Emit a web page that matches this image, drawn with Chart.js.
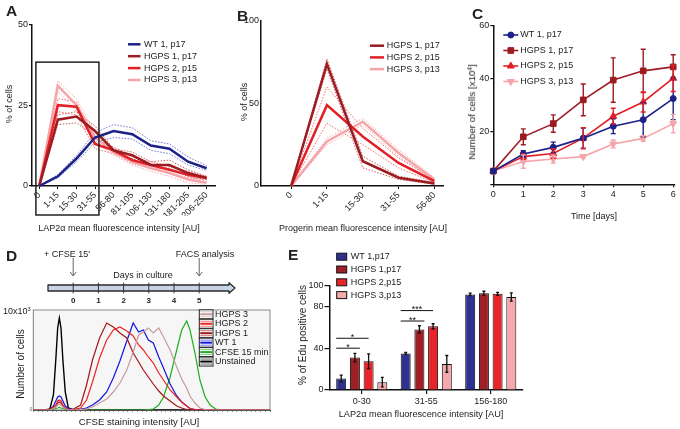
<!DOCTYPE html>
<html>
<head>
<meta charset="utf-8">
<script src="https://cdn.jsdelivr.net/npm/chart.js@4.4.1/dist/chart.umd.min.js"></script>
<style>
  body { margin: 0; background: #fff; }
  #wrap { position: relative; width: 680px; height: 429px; overflow: hidden; font-family: "Liberation Sans", Arial, sans-serif; color: #222; }
  canvas { position: absolute; left: 0; top: 0; }
  .t { position: absolute; white-space: nowrap; font-size: 9px; line-height: 1; transform: translate(-50%, -50%); }
  .r { transform: translate(-50%, -50%) rotate(-90deg); }
  .p { position: absolute; font-weight: bold; font-size: 15.5px; line-height: 1; }
  sup { font-size: 65%; vertical-align: 0; position: relative; top: -0.5em; }
</style>
</head>
<body>
<div id="wrap">
  <canvas id="cA" width="680" height="429"></canvas>
  <canvas id="cB" width="680" height="429"></canvas>
  <canvas id="cC" width="680" height="429"></canvas>
  <canvas id="cT" width="680" height="429"></canvas>
  <canvas id="cD" width="680" height="429"></canvas>
  <canvas id="cE" width="680" height="429"></canvas>

  <div class="p" style="left:6px;top:3px">A</div>
  <div class="p" style="left:237px;top:8px">B</div>
  <div class="p" style="left:472px;top:6px">C</div>
  <div class="p" style="left:6px;top:248px">D</div>
  <div class="p" style="left:288px;top:247px">E</div>

  <div class="t r" style="left:9px;top:104px">% of cells</div>
  <div class="t" style="left:119px;top:228px">LAP2α mean fluorescence intensity [AU]</div>
  <div class="t r" style="left:244px;top:102px">% of cells</div>
  <div class="t" style="left:363px;top:228px">Progerin mean fluorescence intensity [AU]</div>
  <div class="t r" style="left:472px;top:112px;font-size:9.8px">Number of cells [x10<sup>4</sup>]</div>
  <div class="t" style="left:594px;top:216px">Time [days]</div>

  <div class="t" style="left:67px;top:254px">+ CFSE 15'</div>
  <div class="t" style="left:205px;top:254px">FACS analysis</div>
  <div class="t" style="left:143px;top:275px">Days in culture</div>
  <div class="t" style="left:3px;top:311px;transform:translate(0,-50%)">10x10<sup>3</sup></div>
  <div class="t r" style="left:21px;top:364px;font-size:10px">Number of cells</div>
  <div class="t" style="left:139px;top:422px;font-size:9.6px">CFSE staining intensity [AU]</div>

  <div class="t r" style="left:303px;top:335px;font-size:10px">% of Edu positive cells</div>
  <div class="t" style="left:421px;top:415px;font-size:9.2px">LAP2α mean fluorescence intensity [AU]</div>
</div>

<script>
// A: LAP2a distribution (% of cells), mean and dotted SD envelope
const lapBins = ['0', '1-15', '15-30', '31-55', '56-80', '81-105', '106-130', '131-180', '181-205', '206-250'];
const wtLap   = [0, 3, 8.5, 15, 17, 16, 12.5, 11.5, 7.5, 5.5];
const wtLapHi = [0, 3.5, 9.5, 16.5, 19, 18, 14, 13, 9, 6.3];
const wtLapLo = [0, 2.5, 7.5, 13.5, 15, 14.5, 11, 10, 6.5, 4.8];
const h1Lap   = [0, 20.5, 21.5, 17, 11, 9.5, 6.5, 6.5, 4, 2.5];
const h1LapHi = [0, 22, 23, 18.5, 11.5, 10.5, 7.5, 8, 5, 3];
const h1LapLo = [0, 19, 19.5, 15.5, 10, 8.5, 5.5, 5.5, 3, 2];
const h2Lap   = [0, 25, 24.5, 13, 11, 8, 6.5, 5, 3.5, 2.5];
const h2LapHi = [0, 27, 26, 14.5, 12, 9, 7.5, 6, 4.5, 3];
const h2LapLo = [0, 23, 22, 11.5, 10, 7, 5.5, 4, 2.5, 2];
const h3Lap   = [0, 31, 25, 15, 10.5, 7.5, 5.5, 4, 2, 1];
const h3LapHi = [0, 32.5, 27, 16.5, 11.5, 8.5, 6.5, 5, 3, 1.5];
const h3LapLo = [0, 29.5, 23, 13.5, 9.5, 6.5, 4.5, 3, 1, 0.5];
const lapTicks = [0, 25, 50];

// B: progerin distribution
const progBins = ['0', '1-15', '15-30', '31-55', '56-80'];
const h1Prog   = [0, 74, 15, 5, 1.5];
const h1ProgHi = [0, 77, 18, 6, 2];
const h1ProgLo = [0, 71, 11, 4, 1];
const h2Prog   = [0, 49, 30, 14, 3];
const h2ProgHi = [0, 60, 35, 17, 4];
const h2ProgLo = [0, 38, 25, 11, 2];
const h3Prog   = [0, 27, 39, 20, 4];
const h3ProgHi = [0, 29, 41, 22, 5];
const h3ProgLo = [0, 25, 37, 18, 3];
const progTicks = [0, 50, 100];

// C: growth curves, number of cells [x10^4]
const days     = [0, 1, 2, 3, 4, 5, 6];
const wtCells  = [5, 11.5, 14, 17.5, 22, 24.5, 32.5];
const wtErr    = [0, 1.2, 2, 3.8, 2.8, 6.5, 8];
const h1Cells  = [5, 18, 23, 32, 39.5, 43, 44.5];
const h1Err    = [0, 3, 3.3, 6, 8.4, 8.2, 4.6];
const h2Cells  = [5, 10.5, 11.7, 17.5, 25.8, 31.2, 40.2];
const h2Err    = [0, 1, 1.8, 4, 3, 3.8, 5];
const h3Cells  = [5, 8.6, 9.6, 10.5, 15.3, 17.4, 23];
const h3Err    = [0, 2.5, 1.5, 0.5, 1.5, 1, 3.5];
const cellTicks = [0, 20, 40, 60];

// D: timeline days and CFSE histograms (channel 0-100, counts x10^3)
const cultureDays = [0, 1, 2, 3, 4, 5];
const eventDays = [0, 5];
const cfseX = [0, 5, 7, 8.5, 9.5, 10.3, 11, 11.7, 12.5, 13.5, 14.8, 17, 20, 22.5, 25, 28, 31, 33.8, 36.6, 39.5,
               42.2, 44.5, 46.5, 48.6, 50.7, 53, 55, 57.8, 60.6, 62.7, 64.8, 66.2, 68.3, 70.4, 72.6, 74.7, 77, 80, 100];
const hgps3Y = [0, 0, 0, 0.15, 0.3, 0.5, 0.55, 0.5, 0.3, 0.1, 0.05, 0, 0.05, 0.1, 0.3, 0.7, 1.1, 1.8, 2.7, 4,
                5.8, 7.5, 7.8, 8.2, 7.7, 8.2, 7.3, 6, 4.3, 3.1, 2.2, 1.4, 0.7, 0.2, 0.05, 0, 0, 0, 0];
const hgps2Y = [0, 0, 0.05, 0.3, 0.5, 0.9, 1.0, 0.9, 0.5, 0.2, 0.05, 0.05, 0.2, 1.0, 2.8, 5.2, 7, 8, 8.3, 7.9,
                7.4, 6.5, 6, 5.3, 4.7, 3.7, 3, 2, 1.3, 0.8, 0.4, 0.15, 0.05, 0, 0, 0, 0, 0, 0];
const hgps1Y = [0, 0, 0.05, 0.2, 0.4, 0.7, 0.8, 0.7, 0.4, 0.15, 0.05, 0.1, 0.5, 2.5, 5, 7.2, 8.7, 8.3, 7.7, 7.2,
                5.7, 4.8, 4, 3.3, 2.6, 1.9, 1.4, 0.9, 0.4, 0.2, 0.05, 0, 0, 0, 0, 0, 0, 0, 0];
const wt1Y   = [0, 0, 0.05, 0.4, 0.9, 1.3, 1.4, 1.3, 0.9, 0.4, 0.15, 0.05, 0.1, 0.2, 0.5, 1.0, 1.8, 3.2, 4.9, 6.9,
                8.7, 7.8, 8, 7, 6.7, 5.3, 4.2, 2.6, 1.4, 0.8, 0.4, 0.15, 0.05, 0, 0, 0, 0, 0, 0];
const cfse15Y = [0, 0, 0, 0.05, 0.15, 0.2, 0.25, 0.2, 0.15, 0.05, 0, 0, 0, 0, 0, 0, 0, 0, 0, 0,
                 0, 0, 0, 0.05, 0.1, 0.5, 1.3, 3.3, 6, 8, 8.9, 8, 5.7, 3, 1.3, 0.5, 0.1, 0, 0];
const unstY  = [0, 0, 0.1, 1.5, 5, 8.2, 9.2, 8.2, 5, 1.8, 0.2, 0, 0, 0, 0, 0, 0, 0, 0, 0,
                0, 0, 0, 0, 0, 0, 0, 0, 0, 0, 0, 0, 0, 0, 0, 0, 0, 0, 0];

// E: % EdU positive cells per LAP2a class
const eduGroups = ['0-30', '31-55', '156-180'];
const wtEdu  = [11, 35, 91.5];
const wtEduErr = [3.2, 1, 1.2];
const h1Edu  = [31, 58, 92.5];
const h1EduErr = [4, 3.5, 2];
const h2Edu  = [27.5, 61, 92];
const h2EduErr = [7, 2.4, 1.5];
const h3Edu  = [7.5, 25, 89];
const h3EduErr = [4.5, 8, 4];
const eduTicks = [0, 40, 80, 100];
const sigBars = [
  { cat: 0, to: 1, y: 40, text: '*' },
  { cat: 0, to: 2, y: 49.5, text: '*' },
  { cat: 1, to: 1, y: 66, text: '**' },
  { cat: 1, to: 2, y: 76, text: '***' }
];

const NAVY = '#1d2188', DRED = '#9c1c22', RED = '#e31f26', PINK = '#f5a5a9';
const FONT = '"Liberation Sans", Arial, sans-serif';
const W = 680, H = 429;

Chart.defaults.font.family = FONT;
Chart.defaults.font.size = 9;
Chart.defaults.color = '#222';
Chart.defaults.animation = false;
Chart.defaults.responsive = false;
Chart.defaults.devicePixelRatio = 1;
Chart.defaults.plugins.legend.display = false;
Chart.defaults.plugins.tooltip.enabled = false;

// pin the plot area of a full-page canvas to a box
function pad(box, yw, xh) {
  return { left: box.l - yw, top: box.t, right: W - box.r, bottom: H - box.b - xh };
}

function yAxis(min, max, ticks, w, tl, tp, cb) {
  return {
    type: 'linear', min, max,
    afterFit: s => { s.width = w; },
    afterBuildTicks: s => { s.ticks = ticks.map(v => ({ value: v })); },
    grid: { drawOnChartArea: false, drawTicks: tl > 0, tickLength: tl, color: '#111', lineWidth: 1.2 },
    border: { color: '#111', width: 1.5 },
    ticks: { padding: tp, callback: cb || (v => v) }
  };
}

function catAxis(labels, min, max, h) {
  return {
    type: 'linear', min, max,
    afterFit: s => { s.height = h; },
    afterBuildTicks: s => { s.ticks = labels.map((_, i) => ({ value: i })); },
    grid: { drawOnChartArea: false, tickLength: 3, color: '#111', lineWidth: 1 },
    border: { color: '#111', width: 1.5 },
    ticks: { autoSkip: false, minRotation: 45, maxRotation: 45, padding: 1, callback: v => labels[v] ?? '' }
  };
}

const xy = arr => arr.map((v, i) => ({ x: i, y: v }));
const mean = (label, arr, color) => ({ label, data: xy(arr), borderColor: color, backgroundColor: color, borderWidth: 2.5, pointRadius: 0, clip: false });
const band = (arr, color) => ({ data: xy(arr), borderColor: color, borderWidth: 0.8, borderDash: [1.5, 1.5], pointRadius: 0, legend: false });

// legend drawn inside the plot
const inset = {
  id: 'inset',
  afterDraw(chart, args, o) {
    if (o.x === undefined) return;
    const ctx = chart.ctx;
    const items = chart.data.datasets.filter(d => d.legend !== false);
    ctx.save();
    ctx.font = (o.size || 9) + 'px ' + FONT;
    ctx.textBaseline = 'middle';
    items.forEach((d, i) => {
      const x = o.x, y = o.y + i * o.dy;
      if (o.kind === 'box') {
        ctx.fillStyle = d.backgroundColor;
        ctx.fillRect(x, y - 3.5, o.sw, 7);
        ctx.strokeStyle = '#111'; ctx.lineWidth = 1;
        ctx.strokeRect(x, y - 3.5, o.sw, 7);
      } else if (o.kind === 'stripe') {
        ctx.fillStyle = '#fff';
        ctx.fillRect(x, y - 4.5, o.sw, 9);
        ctx.strokeStyle = '#222'; ctx.lineWidth = 1;
        ctx.strokeRect(x, y - 4.5, o.sw, 9);
        ctx.strokeStyle = d.borderColor;
        ctx.lineWidth = 0.6;
        ctx.beginPath();
        ctx.moveTo(x + 1, y - 2.5); ctx.lineTo(x + o.sw - 1, y - 2.5);
        ctx.moveTo(x + 1, y + 2.5); ctx.lineTo(x + o.sw - 1, y + 2.5);
        ctx.stroke();
        ctx.lineWidth = 2;
        ctx.beginPath(); ctx.moveTo(x + 1, y); ctx.lineTo(x + o.sw - 1, y); ctx.stroke();
      } else {
        ctx.strokeStyle = d.borderColor; ctx.lineWidth = o.lw || 2;
        ctx.beginPath(); ctx.moveTo(x, y); ctx.lineTo(x + o.sw, y); ctx.stroke();
        if (o.markers) {
          ctx.fillStyle = d.borderColor; ctx.lineWidth = 1;
          Chart.helpers.drawPoint(ctx, { pointStyle: d.pointStyle, radius: d.pointRadius, rotation: d.pointRotation || 0, borderWidth: 1 }, x + o.sw / 2, y);
        }
      }
      ctx.fillStyle = '#222';
      ctx.fillText(d.label, x + o.sw + o.gap, y);
    });
    ctx.restore();
  }
};

// error bars from dataset.errors
const errBars = {
  id: 'errBars',
  afterDatasetsDraw(chart) {
    const ctx = chart.ctx;
    chart.data.datasets.forEach((ds, i) => {
      if (!ds.errors) return;
      const meta = chart.getDatasetMeta(i);
      const ys = chart.scales[meta.yAxisID];
      ctx.save();
      ctx.strokeStyle = ds.errorColor || ds.borderColor;
      ctx.lineWidth = ds.errorWidth || 1.3;
      meta.data.forEach((el, j) => {
        const e = ds.errors[j];
        if (!e) return;
        const raw = ds.data[j];
        const v = typeof raw === 'object' ? raw.y : raw;
        const t = ys.getPixelForValue(v + e), b = ys.getPixelForValue(v - e), c = ds.errorCap || 2.5;
        ctx.beginPath();
        ctx.moveTo(el.x, t); ctx.lineTo(el.x, b);
        ctx.moveTo(el.x - c, t); ctx.lineTo(el.x + c, t);
        ctx.moveTo(el.x - c, b); ctx.lineTo(el.x + c, b);
        ctx.stroke();
      });
      ctx.restore();
    });
  }
};

// zoom frame in panel A
const frame = {
  id: 'frame',
  afterDraw(chart, args, o) {
    if (o.x0 === undefined) return;
    const { x, y } = chart.scales, ctx = chart.ctx;
    const l = x.getPixelForValue(o.x0), r = x.getPixelForValue(o.x1);
    const t = y.getPixelForValue(o.yTop), b = chart.chartArea.bottom + o.below;
    ctx.save();
    ctx.strokeStyle = '#222'; ctx.lineWidth = 1.5;
    ctx.strokeRect(l, t, r - l, b - t);
    ctx.restore();
  }
};

// significance brackets in panel E
const sig = {
  id: 'sig',
  afterDatasetsDraw(chart, args, o) {
    if (!o.items) return;
    const ctx = chart.ctx, ys = chart.scales.y;
    ctx.save();
    ctx.strokeStyle = '#111'; ctx.fillStyle = '#111'; ctx.lineWidth = 1;
    ctx.font = '9px ' + FONT; ctx.textAlign = 'center'; ctx.textBaseline = 'alphabetic';
    o.items.forEach(s => {
      const e0 = chart.getDatasetMeta(0).data[s.cat], e1 = chart.getDatasetMeta(s.to).data[s.cat];
      const x0 = e0.x - e0.width / 2;
      const x1 = s.to === 1 ? e1.x + e1.width / 2 : e1.x;
      const y = ys.getPixelForValue(s.y);
      ctx.beginPath(); ctx.moveTo(x0, y); ctx.lineTo(x1, y); ctx.stroke();
      ctx.fillText(s.text, (x0 + x1) / 2, y + 1.5);
    });
    ctx.restore();
  }
};

// timeline bar + event arrows
const timeline = {
  id: 'timeline',
  beforeDatasetsDraw(chart, args, o) {
    const ctx = chart.ctx, { left, right, top, bottom } = chart.chartArea, mid = (top + bottom) / 2;
    ctx.save();
    ctx.fillStyle = '#c8d4e5'; ctx.strokeStyle = '#2a2a2a'; ctx.lineWidth = 1.3; ctx.lineJoin = 'round';
    ctx.beginPath();
    ctx.moveTo(left, mid - 3); ctx.lineTo(right - 6, mid - 3); ctx.lineTo(right - 6, mid - 5.3);
    ctx.lineTo(right, mid); ctx.lineTo(right - 6, mid + 5.3); ctx.lineTo(right - 6, mid + 3);
    ctx.lineTo(left, mid + 3); ctx.closePath();
    ctx.fill(); ctx.stroke();
    ctx.strokeStyle = '#666'; ctx.lineWidth = 1;
    o.events.forEach(d => {
      const x = chart.scales.x.getPixelForValue(d);
      ctx.beginPath();
      ctx.moveTo(x, top - 25); ctx.lineTo(x, top - 7);
      ctx.moveTo(x - 3, top - 11); ctx.lineTo(x, top - 7); ctx.lineTo(x + 3, top - 11);
      ctx.stroke();
    });
    ctx.restore();
  }
};

// histogram plot background and frame
const plotBg = {
  id: 'plotBg',
  beforeDatasetsDraw(chart, args, o) {
    if (!o.color) return;
    const { left, top, width, height } = chart.chartArea, ctx = chart.ctx;
    ctx.save();
    ctx.fillStyle = o.color; ctx.fillRect(left, top, width, height);
    ctx.strokeStyle = '#8a8a8a'; ctx.lineWidth = 1; ctx.strokeRect(left, top, width, height);
    ctx.restore();
  }
};

// ---------- A ----------
const boxA = { l: 32, r: 215, t: 24.3, b: 186 };
new Chart(document.getElementById('cA'), {
  type: 'line',
  data: { datasets: [
    mean('WT 1, p17', wtLap, NAVY), mean('HGPS 1, p17', h1Lap, DRED),
    mean('HGPS 2, p15', h2Lap, RED), mean('HGPS 3, p13', h3Lap, PINK),
    band(wtLapHi, '#4b55c4'), band(wtLapLo, '#4b55c4'),
    band(h1LapHi, '#c0393d'), band(h1LapLo, '#c0393d'),
    band(h2LapHi, '#ee4a4f'), band(h2LapLo, '#ee4a4f'),
    band(h3LapHi, '#f29a9e'), band(h3LapLo, '#f29a9e')
  ] },
  options: {
    layout: { padding: pad(boxA, 24, 30) },
    scales: { x: catAxis(lapBins, -0.39, 9.45, 30), y: yAxis(0, 50, lapTicks, 24, 3, 1) },
    plugins: {
      inset: { x: 128, y: 44.3, dy: 11.9, sw: 12.5, gap: 3.5, lw: 2.5 },
      frame: { x0: -0.18, x1: 3.21, yTop: 38.3, below: 29 }
    }
  },
  plugins: [inset, frame]
});

// ---------- B ----------
const boxB = { l: 261, r: 443, t: 21, b: 186 };
new Chart(document.getElementById('cB'), {
  type: 'line',
  data: { datasets: [
    mean('HGPS 1, p17', h1Prog, DRED), mean('HGPS 2, p15', h2Prog, RED), mean('HGPS 3, p13', h3Prog, PINK),
    band(h1ProgHi, '#c0393d'), band(h1ProgLo, '#c0393d'),
    band(h2ProgHi, '#ee4a4f'), band(h2ProgLo, '#ee4a4f'),
    band(h3ProgHi, '#f29a9e'), band(h3ProgLo, '#f29a9e')
  ] },
  options: {
    layout: { padding: pad(boxB, 24, 30) },
    scales: { x: catAxis(progBins, -0.84, 4.24, 30), y: yAxis(0, 100, progTicks, 24, 0, 2) },
    plugins: { inset: { x: 370, y: 45.7, dy: 11.7, sw: 14, gap: 2.7, lw: 2.5 } }
  },
  plugins: [inset]
});

// ---------- C ----------
const boxC = { l: 493.3, r: 676, t: 26, b: 184.3 };
const growth = (label, vals, errs, color, style, r, rot) => ({
  label, data: days.map((d, i) => ({ x: d, y: vals[i] })), errors: errs,
  borderColor: color, backgroundColor: color, borderWidth: 1.6,
  pointStyle: style, pointRadius: r, pointRotation: rot || 0, pointBorderWidth: 1,
  errorCap: 2.5, errorWidth: 1.4, clip: false
});
new Chart(document.getElementById('cC'), {
  type: 'line',
  data: { datasets: [
    growth('WT 1, p17', wtCells, wtErr, NAVY, 'circle', 3),
    growth('HGPS 1, p17', h1Cells, h1Err, DRED, 'rect', 4),
    growth('HGPS 2, p15', h2Cells, h2Err, RED, 'triangle', 4),
    growth('HGPS 3, p13', h3Cells, h3Err, PINK, 'triangle', 4, 180)
  ] },
  options: {
    layout: { padding: pad(boxC, 24, 16) },
    scales: {
      x: {
        type: 'linear', min: 0, max: 6.06,
        afterFit: s => { s.height = 16; },
        afterBuildTicks: s => { s.ticks = days.map(v => ({ value: v })); },
        grid: { drawOnChartArea: false, tickLength: 3, color: '#111', lineWidth: 1.2 },
        border: { color: '#111', width: 1.5 },
        ticks: { padding: 2 }
      },
      y: yAxis(0, 60, cellTicks, 24, 3, 1, v => (v === 0 ? '' : v))
    },
    plugins: { inset: { x: 503.3, y: 35, dy: 15.5, sw: 15, gap: 2, lw: 1.6, markers: true } }
  },
  plugins: [inset, errBars]
});

// ---------- D timeline ----------
const boxT = { l: 48, r: 235, t: 283, b: 293 };
new Chart(document.getElementById('cT'), {
  type: 'scatter',
  data: { datasets: [{
    data: cultureDays.map(d => ({ x: d, y: 0 })),
    pointStyle: 'line', pointRotation: 90, pointRadius: 5.3,
    borderColor: '#333', pointBorderWidth: 1, clip: false
  }] },
  options: {
    layout: { padding: pad(boxT, 0, 14) },
    scales: {
      x: {
        type: 'linear', min: -1, max: 6.42,
        afterFit: s => { s.height = 14; },
        afterBuildTicks: s => { s.ticks = cultureDays.map(v => ({ value: v })); },
        grid: { display: false, drawTicks: false },
        border: { display: false },
        ticks: { padding: 3, font: { size: 8, weight: 'bold' } }
      },
      y: { display: false, min: -1, max: 1 }
    },
    plugins: { timeline: { events: eventDays } }
  },
  plugins: [timeline]
});

// ---------- D histogram ----------
const boxD = { l: 33.3, r: 270, t: 310, b: 410 };
const hist = (label, ys, color, w) => ({
  label, data: cfseX.map((x, i) => ({ x, y: ys[i] })),
  borderColor: color, backgroundColor: color, borderWidth: w || 1.2, pointRadius: 0
});
new Chart(document.getElementById('cD'), {
  type: 'line',
  data: { datasets: [
    hist('HGPS 3', hgps3Y, '#c79b9b'),
    hist('HGPS 2', hgps2Y, '#ee2323'),
    hist('HGPS 1', hgps1Y, '#a51616'),
    hist('WT 1', wt1Y, '#1414dc'),
    hist('CFSE 15 min', cfse15Y, '#1fae1f'),
    hist('Unstained', unstY, '#000000', 1.4)
  ] },
  options: {
    layout: { padding: pad(boxD, 8, 6) },
    scales: {
      x: {
        type: 'linear', min: 0, max: 100,
        afterFit: s => { s.height = 6; },
        grid: { drawOnChartArea: false, tickLength: 2, color: '#999' },
        border: { color: '#222', width: 1 },
        ticks: { display: false, stepSize: 2 }
      },
      y: {
        type: 'linear', min: 0, max: 10,
        afterFit: s => { s.width = 8; },
        afterBuildTicks: s => { s.ticks = [{ value: 0 }]; },
        grid: { drawOnChartArea: false, drawTicks: false },
        border: { color: '#222', width: 1 },
        ticks: { padding: 1, font: { size: 5 }, color: '#666' }
      }
    },
    plugins: {
      plotBg: { color: '#f6f6f6' },
      inset: { x: 199.3, y: 314.3, dy: 9.45, sw: 13.7, gap: 2, kind: 'stripe', size: 9 }
    }
  },
  plugins: [plotBg, inset]
});

// ---------- E ----------
const boxE = { l: 329.5, r: 523, t: 285.5, b: 390 };
const eduBar = (label, vals, errs, color) => ({
  label, data: vals, errors: errs, backgroundColor: color, borderColor: '#111', borderWidth: 1,
  errorColor: '#111', errorWidth: 1.3, errorCap: 1.5,
  categoryPercentage: 0.85, barPercentage: 0.73
});
new Chart(document.getElementById('cE'), {
  type: 'bar',
  data: { labels: eduGroups, datasets: [
    eduBar('WT 1,p17', wtEdu, wtEduErr, '#2e3190'),
    eduBar('HGPS 1,p17', h1Edu, h1EduErr, '#9e1f25'),
    eduBar('HGPS 2,p15', h2Edu, h2EduErr, '#e8242b'),
    eduBar('HGPS 3,p13', h3Edu, h3EduErr, '#f5a9ac')
  ] },
  options: {
    layout: { padding: pad(boxE, 30, 16) },
    scales: {
      x: {
        afterFit: s => { s.height = 16; },
        grid: { drawOnChartArea: false, offset: false, tickLength: 4, color: '#111', lineWidth: 1.2 },
        border: { color: '#111', width: 1.5 },
        ticks: { padding: 2 }
      },
      y: yAxis(0, 100, eduTicks, 30, 5, 1)
    },
    plugins: {
      inset: { x: 336.7, y: 256.7, dy: 12.8, sw: 10, gap: 4, kind: 'box' },
      sig: { items: sigBars }
    }
  },
  plugins: [inset, errBars, sig]
});
</script>
</body>
</html>
